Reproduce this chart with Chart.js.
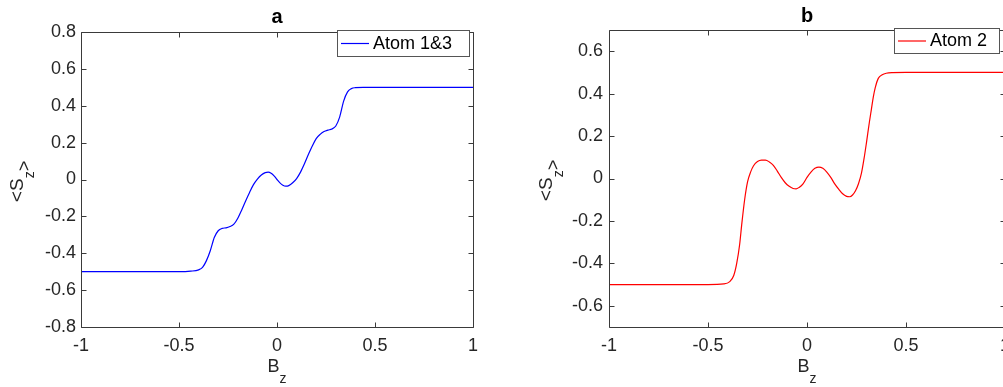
<!DOCTYPE html>
<html lang="en">
<head>
<meta charset="UTF-8">
<title>Sz vs Bz</title>
<script src="https://cdn.jsdelivr.net/npm/chart.js@4.4.1/dist/chart.umd.min.js"></script>
<style>
  body { margin: 0; width: 1003px; height: 387px; overflow: hidden; background: #fff; position: relative; }
  canvas { position: absolute; top: 0; }
</style>
</head>
<body>
<canvas id="chartA" width="500" height="387" style="left:0;width:500px;height:387px"></canvas>
<canvas id="chartB" width="520" height="387" style="left:500px;width:520px;height:387px"></canvas>
<script>
// tick labels
const X_TICKS = [-1, -0.5, 0, 0.5, 1];
const Y_TICKS_A = [-0.8, -0.6, -0.4, -0.2, 0, 0.2, 0.4, 0.6, 0.8];
const Y_TICKS_B = [-0.6, -0.4, -0.2, 0, 0.2, 0.4, 0.6];

// panel a : Atom 1&3
const BZ_A = [-1, -0.5, -0.44, -0.4, -0.38, -0.36, -0.34, -0.32, -0.3, -0.28, -0.26, -0.24, -0.22, -0.2, -0.18,
  -0.16, -0.14, -0.12, -0.1, -0.08, -0.06, -0.045, -0.03, -0.015, 0, 0.015, 0.03, 0.045, 0.06, 0.08,
  0.1, 0.12, 0.14, 0.16, 0.18, 0.2, 0.22, 0.24, 0.26, 0.28, 0.3, 0.32, 0.34, 0.36, 0.38, 0.4, 0.44, 0.5, 1];
const SZ_A = [-0.5, -0.5, -0.497, -0.49, -0.477, -0.44, -0.385, -0.315, -0.278, -0.265, -0.262, -0.255, -0.242, -0.21, -0.165,
  -0.116, -0.07, -0.028, 0.002, 0.024, 0.037, 0.04, 0.034, 0.02, 0, -0.018, -0.031, -0.036, -0.033, -0.018,
  0.005, 0.04, 0.085, 0.135, 0.182, 0.222, 0.245, 0.26, 0.268, 0.274, 0.29, 0.34, 0.425, 0.475, 0.493, 0.498, 0.5, 0.5, 0.5];

// panel b : Atom 2
const BZ_B = [-1, -0.5, -0.42, -0.39, -0.37, -0.355, -0.34, -0.33, -0.315, -0.3, -0.285, -0.27, -0.25, -0.23, -0.21,
  -0.19, -0.17, -0.15, -0.13, -0.11, -0.09, -0.07, -0.055, -0.04, -0.02, 0, 0.02, 0.04, 0.06, 0.08,
  0.1, 0.12, 0.14, 0.16, 0.18, 0.2, 0.215, 0.23, 0.245, 0.26, 0.275, 0.29, 0.3, 0.315, 0.325,
  0.335, 0.345, 0.36, 0.38, 0.4, 0.43, 0.5, 1];
const SZ_B = [-0.5, -0.5, -0.497, -0.486, -0.457, -0.4, -0.31, -0.22, -0.1, -0.015, 0.03, 0.06, 0.08, 0.087, 0.087,
  0.078, 0.062, 0.035, 0.005, -0.02, -0.037, -0.047, -0.049, -0.042, -0.025, 0.005, 0.03, 0.048, 0.054, 0.048,
  0.03, 0.005, -0.025, -0.05, -0.072, -0.084, -0.086, -0.078, -0.058, -0.025, 0.025, 0.105, 0.167, 0.265, 0.325,
  0.385, 0.43, 0.472, 0.489, 0.496, 0.499, 0.5, 0.5];

const FONT = '"Liberation Sans", Arial, Helvetica, sans-serif';
const AXIS_COLOR = '#3a3a3a';
const TEXT_COLOR = '#262626';

// draws main text followed by a lowered small part, e.g. B_z
function drawSubText(ctx, parts, x, y, align) {
  let total = 0;
  parts.forEach(p => { ctx.font = p.font; p.w = ctx.measureText(p.t).width; total += p.w; });
  let cx = align === 'center' ? x - total / 2 : x;
  parts.forEach(p => {
    ctx.font = p.font;
    ctx.textAlign = 'left';
    ctx.textBaseline = 'alphabetic';
    ctx.fillText(p.t, cx, y + (p.dy || 0));
    cx += p.w;
  });
}

const decor = {
  id: 'decor',
  afterDatasetsDraw(chart, args, o) {
    const { ctx, chartArea: a, scales: { x, y } } = chart;
    ctx.save();
    // box + inward ticks
    ctx.strokeStyle = AXIS_COLOR;
    ctx.lineWidth = 1;
    const l = Math.round(a.left) + 0.5, r = Math.round(a.right) + 0.5;
    const t = Math.round(a.top) + 0.5, b = Math.round(a.bottom) + 0.5;
    ctx.beginPath();
    ctx.rect(l, t, r - l, b - t);
    x.ticks.forEach(tk => {
      const p = Math.round(x.getPixelForValue(tk.value)) + 0.5;
      ctx.moveTo(p, b); ctx.lineTo(p, b - 5);
      ctx.moveTo(p, t); ctx.lineTo(p, t + 5);
    });
    y.ticks.forEach(tk => {
      const p = Math.round(y.getPixelForValue(tk.value)) + 0.5;
      ctx.moveTo(l, p); ctx.lineTo(l + 5, p);
      ctx.moveTo(r, p); ctx.lineTo(r - 5, p);
    });
    ctx.stroke();

    const cx = (a.left + a.right) / 2, cy = (a.top + a.bottom) / 2;
    ctx.fillStyle = '#000';
    // title
    ctx.font = 'bold 20px ' + FONT;
    ctx.textAlign = 'center';
    ctx.textBaseline = 'alphabetic';
    ctx.fillText(o.title, cx, o.titleY);

    // x axis title
    ctx.fillStyle = TEXT_COLOR;
    drawSubText(ctx, [
      { t: 'B', font: '18px ' + FONT },
      { t: 'z', font: '14px ' + FONT, dy: 11 }
    ], cx, 372, 'center');

    // y axis title, rotated
    ctx.save();
    ctx.translate(o.yTitleX, cy + 2);
    ctx.rotate(-Math.PI / 2);
    drawSubText(ctx, [
      { t: '<S', font: '19px ' + FONT },
      { t: 'z', font: '14px ' + FONT, dy: 11 },
      { t: '>', font: '18px ' + FONT, dy: 7 }
    ], 0, 0, 'center');
    ctx.restore();

    // legend box
    const L = o.legend, ds = chart.data.datasets[0];
    ctx.fillStyle = '#fff';
    ctx.fillRect(L.x, L.y, L.w, L.h);
    ctx.strokeStyle = '#555';
    ctx.strokeRect(L.x + 0.5, L.y + 0.5, L.w, L.h);
    ctx.strokeStyle = ds.borderColor;
    ctx.lineWidth = 1.2;
    ctx.beginPath();
    ctx.moveTo(L.x + 4, L.y + L.h / 2 + 0.5);
    ctx.lineTo(L.x + 32, L.y + L.h / 2 + 0.5);
    ctx.stroke();
    ctx.fillStyle = '#000';
    ctx.font = '18px ' + FONT;
    ctx.textAlign = 'left';
    ctx.textBaseline = 'middle';
    ctx.fillText(ds.label, L.x + 36, L.y + L.h / 2 + 1);
    ctx.restore();
  }
};

function makeChart(id, xs, ys, yTicks, yMin, yMax, color, label, box, deco) {
  const points = xs.map((v, i) => ({ x: v, y: ys[i] }));
  return new Chart(document.getElementById(id), {
    type: 'line',
    data: {
      datasets: [{
        label: label,
        data: points,
        borderColor: color,
        borderWidth: 1.2,
        pointRadius: 0,
        cubicInterpolationMode: 'monotone',
        fill: false
      }]
    },
    options: {
      responsive: false,
      animation: false,
      layout: { padding: { top: box.top, right: box.right, left: 0, bottom: 0 } },
      plugins: { legend: { display: false }, title: { display: false }, tooltip: { enabled: false }, decor: deco },
      scales: {
        x: {
          type: 'linear', min: -1, max: 1,
          afterBuildTicks: s => { s.ticks = X_TICKS.map(v => ({ value: v })); },
          afterFit: s => { s.height = box.bottom; },
          grid: { display: false, drawTicks: false },
          border: { display: false },
          ticks: { color: TEXT_COLOR, font: { family: FONT, size: 18 }, padding: 8, maxRotation: 0,
            callback: v => String(v) }
        },
        y: {
          type: 'linear', min: yMin, max: yMax,
          afterBuildTicks: s => { s.ticks = yTicks.map(v => ({ value: v })); },
          afterFit: s => { s.width = box.left; },
          grid: { display: false, drawTicks: false },
          border: { display: false },
          ticks: { color: TEXT_COLOR, font: { family: FONT, size: 18 }, padding: box.labelPad,
            callback: v => String(v) }
        }
      }
    },
    plugins: [decor]
  });
}

makeChart('chartA', BZ_A, SZ_A, Y_TICKS_A, -0.8, 0.8, '#0000ff', 'Atom 1&3',
  { left: 81, top: 32, right: 27, bottom: 60, labelPad: 5 },
  { title: 'a', titleY: 23, yTitleX: 23, legend: { x: 337, y: 30, w: 132, h: 26 } });

makeChart('chartB', BZ_B, SZ_B, Y_TICKS_B, -0.7, 0.7, '#ff0000', 'Atom 2',
  { left: 109, top: 30, right: 15, bottom: 60, labelPad: 6 },
  { title: 'b', titleY: 22, yTitleX: 52, legend: { x: 394, y: 28, w: 105, h: 25 } });
</script>
</body>
</html>
